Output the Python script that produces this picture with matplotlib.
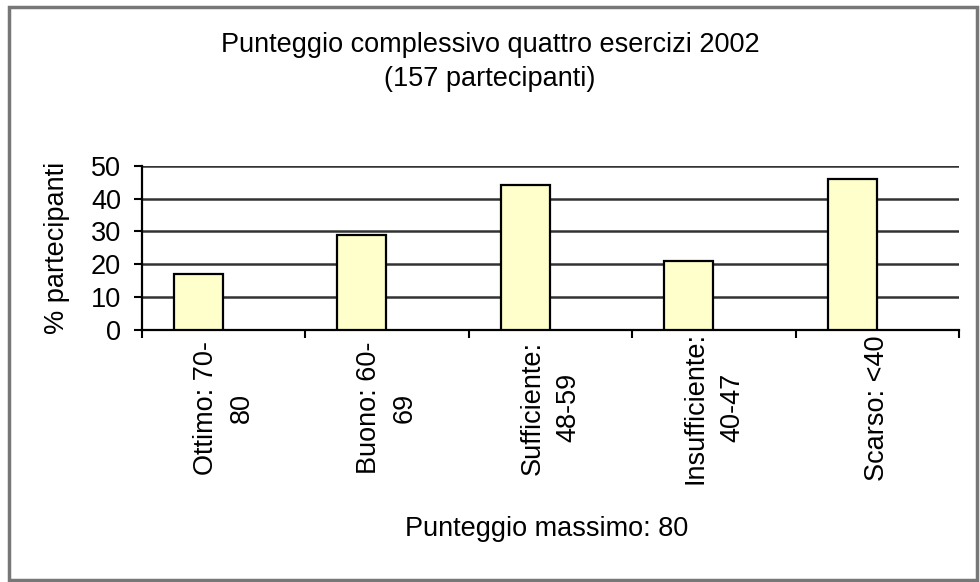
import matplotlib.pyplot as plt
from matplotlib.patches import Rectangle
import numpy as np

plt.rcParams['font.family'] = ['Liberation Sans', 'DejaVu Sans']

# DATA
categories = ["Ottimo: 70-\n80", "Buono: 60-\n69", "Sufficiente:\n48-59",
              "Insufficiente:\n40-47", "Scarso: <40"]
percent = [17, 29, 44, 21, 46]
y_ticks = [0, 10, 20, 30, 40, 50]

FS = 19.5

fig = plt.figure(figsize=(9.8, 5.82), dpi=100)
ax = fig.add_axes([0.1449, 0.433, 0.8337, 0.2823])

# bars sit a bit left of each category centre, like the original
n = len(categories)
slots = np.arange(n)
ax.bar(slots + 0.346, percent, width=0.30, color="#FFFFCC",
       edgecolor="black", linewidth=1.6, zorder=3)

ax.set_xlim(0, n)
ax.set_ylim(0, 50)
ax.set_yticks(y_ticks)
ax.tick_params(axis="y", length=6, width=1.5, direction="out",
               labelsize=FS, pad=9)
ax.yaxis.grid(True, color="#333333", linewidth=1.8, zorder=0)

# category boundary ticks (major), labels on minor ticks at centres
ax.set_xticks(np.arange(n + 1))
ax.set_xticklabels([])
ax.tick_params(axis="x", which="major", length=6, width=1.5, direction="out")
ax.set_xticks(slots + 0.5, minor=True)
ax.set_xticklabels(categories, minor=True, rotation=90, va="center",
                   ha="center", fontsize=FS, linespacing=1.5)
ax.tick_params(axis="x", which="minor", length=0, pad=56)

for side in ("top", "right"):
    ax.spines[side].set_visible(False)
for side in ("left", "bottom"):
    ax.spines[side].set_linewidth(1.6)

ax.set_ylabel("% partecipanti", fontsize=FS)
ax.yaxis.set_label_coords(-0.088, 0.5)
fig.text(547 / 980, 1 - 529 / 582, "Punteggio massimo: 80", ha="center",
         va="center", fontsize=FS)
fig.text(0.5, 1 - 52 / 582, "Punteggio complessivo quattro esercizi 2002",
         ha="center", va="baseline", fontsize=FS)
fig.text(0.5, 1 - 86 / 582, "(157 partecipanti)", ha="center",
         va="baseline", fontsize=FS)

# chart frame
fig.patches.append(Rectangle((0.009, 0.004), 0.988, 0.984,
                             transform=fig.transFigure, fill=False,
                             edgecolor="#777777", linewidth=2.5))

fig.savefig("out.png", dpi=100)
